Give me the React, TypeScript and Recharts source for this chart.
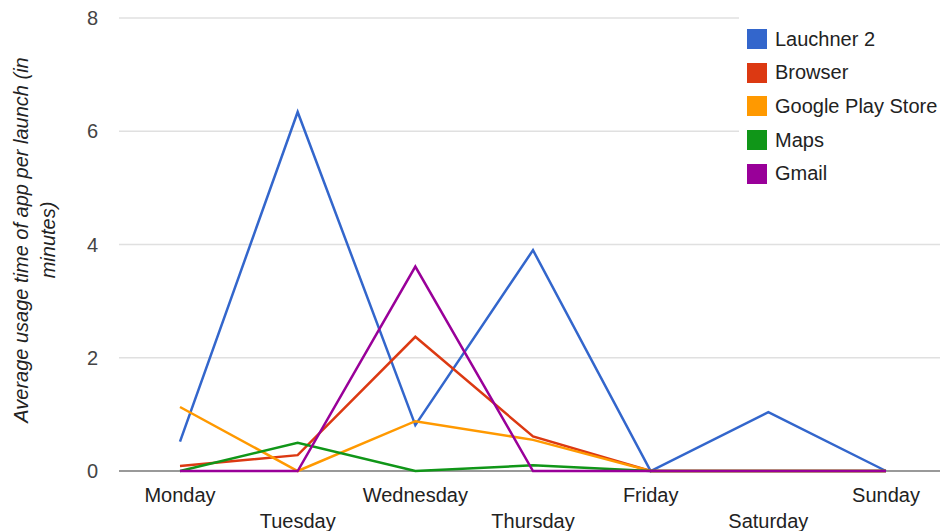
import { LineChart, Line, XAxis, YAxis, CartesianGrid, ReferenceLine } from "recharts";

const days = ["Monday", "Tuesday", "Wednesday", "Thursday", "Friday", "Saturday", "Sunday"];

const launcher = [0.52, 6.34, 0.81, 3.9, 0, 1.04, 0];
const browser = [0.09, 0.28, 2.37, 0.61, 0, 0, 0];
const playStore = [1.13, 0, 0.88, 0.55, 0, 0, 0];
const maps = [0, 0.5, 0, 0.1, 0, 0, 0];
const gmail = [0, 0, 3.61, 0, 0, 0, 0];

const yTicks = [0, 2, 4, 6, 8];

const series = [
  { id: "launcher", label: "Lauchner 2", color: "#3366cc", values: launcher },
  { id: "browser", label: "Browser", color: "#dc3912", values: browser },
  { id: "playStore", label: "Google Play Store", color: "#ff9900", values: playStore },
  { id: "maps", label: "Maps", color: "#109618", values: maps },
  { id: "gmail", label: "Gmail", color: "#990099", values: gmail },
];

const data = days.map((day, i) => {
  const row: Record<string, string | number> = { day };
  series.forEach((s) => {
    row[s.id] = s.values[i];
  });
  return row;
});

const FONT = "'Liberation Sans', Arial, sans-serif";

function DayTick(props: any) {
  const { x, y, payload, index } = props;
  const dy = index % 2 === 0 ? 31 : 57;
  return (
    <text x={x} y={y + dy} textAnchor="middle" fontSize={20} fontFamily={FONT} fill="#222">
      {payload.value}
    </text>
  );
}

function AxisTitle() {
  return (
    <g fontFamily={FONT} fontSize={20} fontStyle="italic" fill="#222" textAnchor="middle">
      <text transform="translate(28,240) rotate(-90)">Average usage time of app per launch (in</text>
      <text transform="translate(55,240) rotate(-90)">minutes)</text>
    </g>
  );
}

export default function App() {
  return (
    <div style={{ position: "fixed", left: 0, top: 0, width: 940, height: 531, overflow: "hidden", background: "#fff" }}>
      <LineChart width={946} height={531} data={data} margin={{ top: 18, right: 0, bottom: 0, left: 0 }}>
        <CartesianGrid vertical={false} stroke="#e0e0e0" strokeWidth={1.5} />
        <XAxis
          dataKey="day"
          axisLine={false}
          tickLine={false}
          tickSize={0}
          tickMargin={0}
          interval={0}
          padding={{ left: 61, right: 60 }}
          tick={<DayTick />}
          height={60}
        />
        <YAxis
          width={119}
          domain={[0, 8]}
          ticks={yTicks}
          axisLine={false}
          tickLine={false}
          tickSize={0}
          tickMargin={21}
          tick={{ fontSize: 20, fontFamily: FONT, fill: "#444" }}
          label={{ content: () => <AxisTitle /> }}
        />
        <ReferenceLine y={0} stroke="#999" strokeWidth={2} />
        {series.map((s) => (
          <Line
            key={s.id}
            type="linear"
            dataKey={s.id}
            name={s.label}
            stroke={s.color}
            strokeWidth={2.5}
            dot={false}
            activeDot={false}
            isAnimationActive={false}
          />
        ))}
      </LineChart>
      <div
        style={{
          position: "absolute",
          left: 739,
          top: 10,
          width: 201,
          height: 185,
          background: "#fff",
          fontFamily: FONT,
          fontSize: 20,
          color: "#222",
          whiteSpace: "nowrap",
        }}
      >
        {series.map((s, i) => (
          <div
            key={s.id}
            style={{ position: "absolute", left: 8, top: 19 + i * 33.7, height: 20, display: "flex", alignItems: "center" }}
          >
            <span style={{ display: "inline-block", width: 20, height: 20, background: s.color, marginRight: 8 }} />
            <span>{s.label}</span>
          </div>
        ))}
      </div>
    </div>
  );
}
